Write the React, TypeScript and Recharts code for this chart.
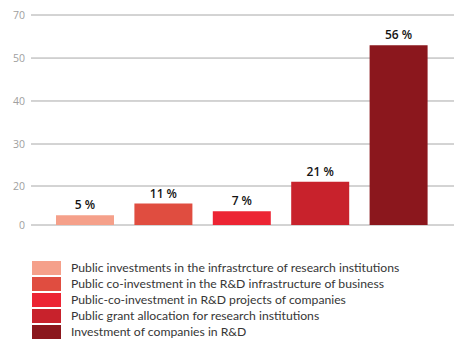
import React from "react";
import { BarChart, Bar, XAxis, YAxis, CartesianGrid, Cell, LabelList } from "recharts";

const categories = [
  "Public investments in the infrastrcture of research institutions",
  "Public co-investment in the R&D infrastructure of business",
  "Public-co-investment in R&D projects of companies",
  "Public grant allocation for research institutions",
  "Investment of companies in R&D",
];
const shares = [5, 11, 7, 21, 56];
const colors = ["#f5a08a", "#e04d40", "#ec2433", "#c8222c", "#8b171d"];
const yTicks = [0, 20, 30, 40, 50, 70];
// relative position of each tick along the (unevenly drawn) value axis
const yTickPositions = [0, 0.1857, 0.3857, 0.5905, 0.795, 1];

const data = categories.map((name, i) => ({ name, value: shares[i] }));

function piecewiseScale(stops: number[], fracs: number[], dom?: number[], rng?: number[]): any {
  let d = dom ? dom.slice() : [stops[0], stops[stops.length - 1]];
  let r = rng ? rng.slice() : [0, 1];
  const scale: any = (v: number) => {
    const n = stops.length;
    let i = 0;
    while (i < n - 2 && v > stops[i + 1]) i++;
    const t = fracs[i] + ((v - stops[i]) / (stops[i + 1] - stops[i])) * (fracs[i + 1] - fracs[i]);
    return r[0] + t * (r[r.length - 1] - r[0]);
  };
  scale.domain = (x?: number[]) => (x === undefined ? d.slice() : ((d = x.slice()), scale));
  scale.range = (x?: number[]) => (x === undefined ? r.slice() : ((r = x.slice()), scale));
  scale.copy = () => piecewiseScale(stops, fracs, d, r);
  scale.ticks = () => stops.slice();
  scale.tickFormat = () => (v: number) => String(v);
  scale.clamp = () => scale;
  scale.nice = () => scale;
  scale.invert = (px: number) => {
    const t = (px - r[0]) / (r[r.length - 1] - r[0]);
    let i = 0;
    while (i < fracs.length - 2 && t > fracs[i + 1]) i++;
    return stops[i] + ((t - fracs[i]) / (fracs[i + 1] - fracs[i])) * (stops[i + 1] - stops[i]);
  };
  return scale;
}

const yScale = piecewiseScale(yTicks, yTickPositions);

export default function App() {
  return (
    <div style={{ position: "absolute", left: 0, top: 0, width: 468, height: 353, background: "#fff" }}>
      <BarChart
        width={468}
        height={240}
        data={data}
        margin={{ top: 15, right: 14, bottom: 15, left: 0 }}
      >
        <CartesianGrid vertical={false} stroke="#a8a8a8" strokeWidth={1} />
        <XAxis
          dataKey="name"
          height={0}
          tick={false}
          tickLine={false}
          axisLine={{ stroke: "#222", strokeWidth: 1.5 }}
          padding={{ left: 15, right: 16 }}
        />
        <XAxis
          xAxisId="edge"
          type="number"
          domain={[0, 1]}
          ticks={[0, 1]}
          mirror
          height={0}
          tick={false}
          tickSize={5}
          tickLine={{ stroke: "#222", strokeWidth: 1.5 }}
          axisLine={false}
        />
        <YAxis
          width={31}
          domain={[0, 70]}
          ticks={yTicks}
          scale={yScale}
          axisLine={false}
          tickLine={false}
          tickSize={4}
          tickMargin={2}
          interval={0}
          tick={{ fill: "#a0a0a0", fontSize: 10.5, fontFamily: "'Open Sans', sans-serif" }}
        />
        <Bar dataKey="value" barSize={58} isAnimationActive={false}>
          {data.map((d, i) => (
            <Cell key={d.name} fill={colors[i]} />
          ))}
          <LabelList
            dataKey="value"
            position="top"
            offset={6}
            formatter={(v: any) => `${v} %`}
            style={{ fill: "#141414", fontSize: 12, fontWeight: 600, fontFamily: "'Open Sans', sans-serif" }}
          />
        </Bar>
      </BarChart>
      <div
        style={{
          position: "absolute",
          left: 32,
          top: 261,
          fontFamily: "Lato, sans-serif",
          fontSize: 12.2,
          color: "#363636",
        }}
      >
        {categories.map((c, i) => (
          <div key={c} style={{ display: "flex", alignItems: "center", height: 14, marginBottom: 2 }}>
            <div style={{ width: 29, height: 14, background: colors[i], marginRight: 10, flexShrink: 0 }} />
            <span style={{ whiteSpace: "nowrap", lineHeight: "14px" }}>{c}</span>
          </div>
        ))}
      </div>
    </div>
  );
}
